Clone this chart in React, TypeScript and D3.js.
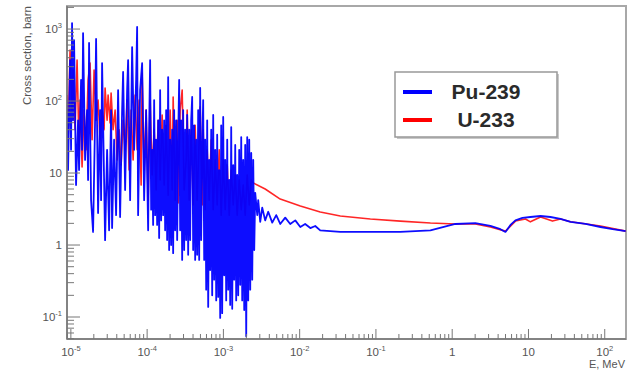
import React from "react";
import * as d3 from "d3";

// ---- Data (E in MeV, cross section in barn) ----
const pu239Resonance: [number, number][] = [
  [8.91e-6, 103], [9.19e-6, 11], [9.76e-6, 370], [1.006e-5, 21], [1.037e-5, 1210], [1.069e-5, 54],
  [1.102e-5, 700], [1.17e-5, 6.8], [1.243e-5, 54], [1.281e-5, 11], [1.361e-5, 196], [1.403e-5, 21],
  [1.446e-5, 880], [1.536e-5, 15.2], [1.632e-5, 75], [1.682e-5, 8.0], [1.733e-5, 640], [1.841e-5, 4.2],
  [1.956e-5, 1.52], [2.078e-5, 54], [2.142e-5, 727], [2.275e-5, 2.78], [2.417e-5, 75], [2.491e-5, 4.2],
  [2.567e-5, 337], [2.727e-5, 8.0], [2.811e-5, 1.17], [2.986e-5, 21], [3.172e-5, 1.6], [3.37e-5, 75],
  [3.473e-5, 1.72], [3.689e-5, 29], [3.919e-5, 2.6], [4.164e-5, 142], [4.423e-5, 2.45], [4.699e-5, 75],
  [4.843e-5, 253], [5.145e-5, 5.8], [5.465e-5, 142], [5.633e-5, 370], [5.984e-5, 4.2], [6.356e-5, 562],
  [6.752e-5, 21], [7.173e-5, 196], [7.393e-5, 1070], [7.619e-5, 2.6], [8.094e-5, 142], [8.598e-5, 337],
  [9.134e-5, 4.2], [9.703e-5, 75],
  [1.031e-4, 1.6], [1.062e-4, 40], [1.095e-4, 370], [1.129e-4, 3.1], [1.163e-4, 21], [1.199e-4, 1.9],
  [1.236e-4, 103], [1.274e-4, 2.6], [1.313e-4, 29], [1.353e-4, 1.9], [1.395e-4, 54], [1.437e-4, 1.25],
  [1.481e-4, 142], [1.527e-4, 2.2], [1.574e-4, 40], [1.622e-4, 2.6], [1.672e-4, 54], [1.723e-4, 1.6],
  [1.776e-4, 75], [1.83e-4, 1.17], [1.887e-4, 215], [1.944e-4, 0.85], [2.004e-4, 29], [2.065e-4, 1.0],
  [2.129e-4, 40], [2.194e-4, 0.77], [2.261e-4, 75], [2.331e-4, 1.6], [2.402e-4, 54], [2.476e-4, 1.17],
  [2.552e-4, 29], [2.63e-4, 196], [2.711e-4, 1.6], [2.794e-4, 54], [2.88e-4, 0.62], [2.968e-4, 75],
  [3.059e-4, 0.85], [3.153e-4, 40], [3.25e-4, 1.17], [3.349e-4, 64], [3.452e-4, 0.73], [3.558e-4, 40],
  [3.667e-4, 1.17], [3.78e-4, 54], [3.896e-4, 114], [4.015e-4, 0.85], [4.138e-4, 46], [4.265e-4, 0.62],
  [4.396e-4, 29], [4.531e-4, 0.73], [4.67e-4, 75], [4.813e-4, 0.62], [4.96e-4, 152], [5.11e-4, 1.17],
  [5.27e-4, 21], [5.43e-4, 103], [5.6e-4, 0.62],
  [5.77e-4, 29], [5.95e-4, 0.24], [6.13e-4, 54], [6.32e-4, 0.138], [6.51e-4, 15.2], [6.71e-4, 0.45],
  [6.92e-4, 40], [7.13e-4, 0.2], [7.35e-4, 64], [7.57e-4, 0.33], [7.81e-4, 21], [8.05e-4, 0.17],
  [8.29e-4, 34], [8.55e-4, 0.19], [8.81e-4, 11], [9.08e-4, 0.097], [9.36e-4, 46], [9.64e-4, 0.113],
  [9.94e-4, 60], [1.025e-3, 0.38], [1.056e-3, 15.2], [1.088e-3, 0.17], [1.122e-3, 29], [1.156e-3, 0.24],
  [1.192e-3, 8.0], [1.228e-3, 0.147], [1.266e-3, 43.5], [1.305e-3, 0.13], [1.345e-3, 12.9], [1.386e-3, 0.33],
  [1.429e-3, 24.5], [1.472e-3, 0.17], [1.517e-3, 9.4], [1.564e-3, 0.2], [1.612e-3, 21], [1.662e-3, 0.28],
  [1.713e-3, 31.6], [1.765e-3, 0.17], [1.819e-3, 15.2], [1.875e-3, 0.125], [1.932e-3, 24.5], [1.992e-3, 0.054],
  [2.053e-3, 31.6], [2.116e-3, 0.17], [2.181e-3, 29], [2.248e-3, 0.24], [2.317e-3, 19], [2.388e-3, 0.33],
  [2.461e-3, 15.2], [2.537e-3, 0.85],
];

const pu239Smooth: [number, number][] = [
  [2.614e-3, 5.3], [2.78e-3, 2.6], [2.86e-3, 4.2], [3.04e-3, 2.1], [3.23e-3, 3.3], [3.53e-3, 2.2],
  [3.87e-3, 2.9], [4.37e-3, 2.05], [4.93e-3, 2.6], [5.56e-3, 1.96], [6.47e-3, 2.4], [7.52e-3, 1.96],
  [8.76e-3, 2.2], [1.02e-2, 1.78], [1.18e-2, 1.96], [1.38e-2, 1.72], [1.6e-2, 1.84], [1.86e-2, 1.6],
  [2.52e-2, 1.56], [3.41e-2, 1.52], [8.45e-2, 1.52], [0.209, 1.52], [0.518, 1.6], [1.1, 1.96],
  [2.01, 2.02], [3.17, 1.84], [4.29, 1.66], [4.99, 1.52], [5.81, 1.9], [6.75, 2.2], [8.34, 2.38],
  [10.6, 2.45], [14.4, 2.53], [19.4, 2.45], [26.3, 2.3], [35.6, 2.1], [56, 1.96], [88, 1.78],
  [126.6, 1.66], [188, 1.56],
];

const u233Resonance: [number, number][] = [
  [8.91e-6, 121], [9.19e-6, 29], [9.76e-6, 510], [1.037e-5, 75], [1.069e-5, 270], [1.135e-5, 40],
  [1.206e-5, 370], [1.281e-5, 21], [1.32e-5, 103], [1.403e-5, 12.1], [1.49e-5, 75], [1.583e-5, 21],
  [1.682e-5, 196], [1.786e-5, 337], [1.898e-5, 29], [2.016e-5, 270], [2.142e-5, 54], [2.275e-5, 103],
  [2.417e-5, 29], [2.567e-5, 75], [2.727e-5, 40], [2.811e-5, 152], [2.986e-5, 54], [3.078e-5, 121],
  [3.269e-5, 49.5], [3.37e-5, 129], [3.58e-5, 40], [3.803e-5, 75], [4.04e-5, 15.2], [4.291e-5, 40],
  [4.559e-5, 12.9], [4.843e-5, 54], [5.145e-5, 21], [5.465e-5, 103], [5.806e-5, 11], [6.167e-5, 75],
  [6.551e-5, 15.2], [6.959e-5, 121], [7.393e-5, 21], [7.853e-5, 103], [8.342e-5, 6.8], [8.598e-5, 245],
  [9.134e-5, 11], [9.703e-5, 75], [1.031e-4, 4.2], [1.095e-4, 103], [1.163e-4, 9.4], [1.236e-4, 40],
  [1.313e-4, 5.8], [1.395e-4, 54], [1.481e-4, 8.0], [1.574e-4, 64], [1.672e-4, 6.8], [1.776e-4, 46],
  [1.887e-4, 4.9], [2.004e-4, 75], [2.129e-4, 5.8], [2.194e-4, 114], [2.331e-4, 4.2], [2.476e-4, 54],
  [2.552e-4, 3.83], [2.711e-4, 75], [2.88e-4, 142], [3.059e-4, 5.8], [3.25e-4, 15.2], [3.349e-4, 75],
  [3.558e-4, 4.2], [3.78e-4, 40], [4.015e-4, 3.6], [4.265e-4, 46], [4.531e-4, 4.2], [4.813e-4, 29],
  [4.96e-4, 83], [5.27e-4, 3.6], [5.43e-4, 40], [5.77e-4, 3.1], [6.13e-4, 21], [6.51e-4, 4.2],
  [6.92e-4, 29], [7.35e-4, 3.1], [7.81e-4, 15.2], [8.29e-4, 3.6], [8.81e-4, 21], [9.36e-4, 2.6],
  [9.94e-4, 15.2], [1.056e-3, 3.1], [1.122e-3, 12.9], [1.192e-3, 2.6], [1.266e-3, 11], [1.345e-3, 3.6],
  [1.429e-3, 9.4], [1.517e-3, 2.6], [1.612e-3, 8.0], [1.713e-3, 3.1], [1.819e-3, 6.8], [1.932e-3, 2.6],
  [2.053e-3, 9.4], [2.181e-3, 3.6], [2.317e-3, 8.0],
];

const u233Smooth: [number, number][] = [
  [2.46e-3, 7.3], [3.53e-3, 6.0], [5.56e-3, 4.35], [1.02e-2, 3.48], [1.86e-2, 2.87], [3.41e-2, 2.53],
  [8.45e-2, 2.3], [0.209, 2.15], [0.518, 2.02], [1.1, 1.96], [2.01, 1.96], [3.17, 1.78], [4.99, 1.56],
  [6.75, 2.15], [9.13, 2.3], [10.6, 2.1], [14.4, 2.45], [20.65, 2.15], [26.3, 2.3], [35.6, 2.1],
  [88, 1.84], [188, 1.56],
];

const xMajorTicks = [1e-5, 1e-4, 1e-3, 1e-2, 1e-1, 1, 10, 100];
const xTickBase = ["10", "10", "10", "10", "10", "1", "10", "10"];
const xTickExp = ["-5", "-4", "-3", "-2", "-1", "", "", "2"];
const yMajorTicks = [0.1, 1, 10, 100, 1000];
const yTickBase = ["10", "1", "10", "10", "10"];
const yTickExp = ["-1", "", "", "2", "3"];
const legendLabels = ["Pu-239", "U-233"];
const seriesColors = ["#0000ff", "#ff0000"];

const xDomain: [number, number] = [8.9e-6, 190];
const yDomain: [number, number] = [0.0495, 2090];

export default function App() {
  const W = 631, H = 374;
  const left = 67, right = 626, top = 6, bottom = 339;
  const x = d3.scaleLog().domain(xDomain).range([left, right]);
  const y = d3.scaleLog().domain(yDomain).range([bottom, top]);
  const line = d3.line<[number, number]>().x(d => x(d[0])).y(d => y(d[1]));

  const pu = [...pu239Resonance, ...pu239Smooth];
  const u = [...u233Resonance, ...u233Smooth];

  const xMinor: number[] = [];
  for (let e = -6; e <= 2; e++) for (let k = 2; k <= 9; k++) {
    const v = k * Math.pow(10, e);
    if (v > xDomain[0] && v < xDomain[1]) xMinor.push(v);
  }
  const yMinor: number[] = [];
  for (let e = -2; e <= 3; e++) for (let k = 2; k <= 9; k++) {
    const v = k * Math.pow(10, e);
    if (v > yDomain[0] && v < yDomain[1]) yMinor.push(v);
  }

  const font = "Liberation Sans, Arial, sans-serif";
  const tickColor = "#555";

  return (
    <svg width={W} height={H} style={{ position: "absolute", left: 0, top: 0, background: "#fff" }}
      fontFamily={font}>
      <defs>
        <clipPath id="plotClip">
          <rect x={left} y={top} width={right - left} height={bottom - top} />
        </clipPath>
      </defs>
      <rect x={0} y={0} width={W} height={H} fill="#fff" />
      <rect x={left} y={top} width={right - left} height={bottom - top} fill="none" stroke="#a8a8a8" strokeWidth={2} />

      <g clipPath="url(#plotClip)" fill="none" strokeLinejoin="round">
        <path d={line(u) || ""} stroke={seriesColors[1]} strokeWidth={1.6} opacity={0.85} />
        <path d={line(pu) || ""} stroke={seriesColors[0]} strokeWidth={1.8} opacity={0.95} />
      </g>

      <line x1={left} x2={right} y1={bottom} y2={bottom} stroke="#777" strokeWidth={1.5} />
      <line x1={left} x2={left} y1={top} y2={bottom} stroke="#777" strokeWidth={1.5} />

      {xMajorTicks.map((v, i) => (
        <line key={"xm" + i} x1={x(v)} x2={x(v)} y1={bottom} y2={bottom - 10} stroke="#777" strokeWidth={1} />
      ))}
      {xMinor.map((v, i) => (
        <line key={"xn" + i} x1={x(v)} x2={x(v)} y1={bottom} y2={bottom - 5} stroke="#777" strokeWidth={1} />
      ))}
      {xMajorTicks.map((v, i) => (
        <text key={"xl" + i} x={x(v)} y={356} textAnchor="middle" fontSize={11.5} fill={tickColor}>
          <tspan>{xTickBase[i]}</tspan>
          {xTickExp[i] && <tspan dy={-5} fontSize={7.5}>{xTickExp[i]}</tspan>}
        </text>
      ))}
      <text x={625} y={368} textAnchor="end" fontSize={11} fill={tickColor}>E, MeV</text>

      {yMajorTicks.map((v, i) => (
        <line key={"ym" + i} x1={left} x2={left + 13} y1={y(v)} y2={y(v)} stroke="#777" strokeWidth={1} />
      ))}
      {yMinor.map((v, i) => (
        <line key={"yn" + i} x1={left} x2={left + 7} y1={y(v)} y2={y(v)} stroke="#777" strokeWidth={1} />
      ))}
      {yMajorTicks.map((v, i) => (
        <text key={"yl" + i} x={62} y={y(v) + 4} textAnchor="end" fontSize={11.5} fill={tickColor}>
          <tspan>{yTickBase[i]}</tspan>
          {yTickExp[i] && <tspan dy={-5} fontSize={7.5}>{yTickExp[i]}</tspan>}
        </text>
      ))}
      <text transform="translate(31,6) rotate(-90)" textAnchor="end" fontSize={11.5} fill={tickColor}>
        Cross section, barn
      </text>

      <rect x={397} y={74} width={162} height={65} fill="#c8c8c8" />
      <rect x={395} y={72} width={162} height={65} fill="#fff" stroke="#999" strokeWidth={1.5} />
      {legendLabels.map((lab, i) => (
        <g key={"lg" + i}>
          <line x1={403} x2={432} y1={92 + i * 28} y2={92 + i * 28} stroke={seriesColors[i]} strokeWidth={4} />
          <text x={486} y={99 + i * 28} textAnchor="middle" fontSize={21} fontWeight="bold" fill="#2a2a2a">{lab}</text>
        </g>
      ))}
    </svg>
  );
}
